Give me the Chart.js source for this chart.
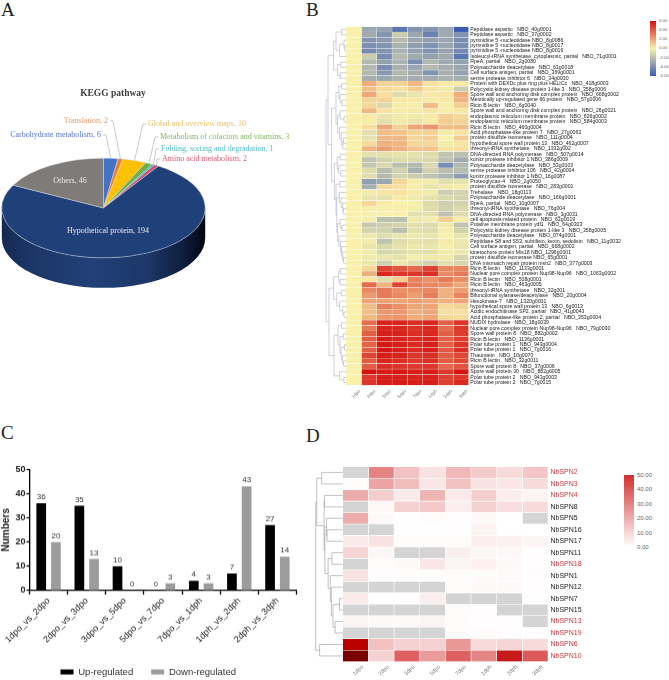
<!DOCTYPE html>
<html>
<head>
<meta charset="utf-8">
<title>Figure</title>
<script src="https://cdn.jsdelivr.net/npm/chart.js@4"></script>
<style>
  body { margin: 0; background: #fff; width: 669px; height: 680px; position: relative; overflow: hidden; }
  canvas { position: absolute; }
  .letter { position: absolute; font: 19px "Liberation Serif", serif; color: #222; line-height: 19px; }
  .bar { position: absolute; }
  .tick { position: absolute; font-family: "Liberation Sans", sans-serif; color: #666; line-height: 1; }
</style>
</head>
<body>
<div class="letter" style="left:1px;top:0px">A</div>
<div class="letter" style="left:306px;top:0px">B</div>
<div class="letter" style="left:1px;top:423px">C</div>
<div class="letter" style="left:306px;top:426px">D</div>

<div style="position:absolute;left:0;top:0;width:300px;height:320px"><canvas id="pieChart"></canvas></div>
<div style="position:absolute;left:320px;top:20px;width:330px;height:390px"><canvas id="heatB"></canvas></div>
<div style="position:absolute;left:0;top:460px;width:300px;height:227.7px"><canvas id="barChart"></canvas></div>
<div style="position:absolute;left:310px;top:460px;width:290px;height:218px"><canvas id="heatD"></canvas></div>

<div class="bar" id="barB" style="left:650px;top:21px;width:6px;height:55px"></div>
<div class="bar" id="barD" style="left:624px;top:475px;width:10px;height:72px"></div>

<script>
// Panel A
const pieLabels = ["Carbohydrate metabolism", "Translation", "Global and overview maps",
    "Metabolism of cofactors and vitamins", "Folding, sorting and degradation",
    "Amino acid metabolism", "Hypothetical protein", "Others"];
const pieValues = [6, 2, 10, 3, 1, 2, 194, 46];
const pieColors = ["#4472c4", "#ed7d31", "#ffc000", "#70ad47", "#2fb4c4", "#d0506e", "#20407a", "#7f7b78"];
const pieTextColors = ["#5577cc", "#ef9a66", "#e6bf6a", "#82b85e", "#4fbcc8", "#dc5a70"];
const pieTextPos = [[101, 135, "right"], [108, 121, "right"], [148, 124, "left"], [160, 137, "left"], [161, 149, "left"], [162, 159, "left"]];

// Panel C
const comparisons = ["1dpo_vs_2dpo", "2dpo_vs_3dpo", "3dpo_vs_5dpo", "5dpo_vs_7dpo", "7dpo_vs_1dph", "1dph_vs_2dph", "2dph_vs_3dph"];
const upRegulated = [36, 35, 10, 0, 4, 7, 27];
const downRegulated = [20, 13, 0, 3, 3, 43, 14];

// Panels B and D
const stages = ["1dpo", "2dpo", "3dpo", "5dpo", "7dpo", "1dph", "2dph", "3dph"];

const genesB = [
    "Peptidase aspartic   NBO_40g0001", "Peptidase aspartic   NBO_37g0002",
    "pyrimidine 5 -nucleotidase NBO_8g0086", "pyrimidine 5 -nucleotidase NBO_8g0017",
    "pyrimidine 5 -nucleotidase NBO_8g0016", "Isoleucyl-tRNA synthetase, cytoplasmic, partial   NBO_71g0001",
    "RpeA, partial   NBO_2g0080", "Polysaccharide deacetylase   NBO_63g0018",
    "Cell surface antigen, partial   NBO_369g0001", "serine protease inhibitor 6   NBO_34g0030",
    "Protein with DEXDc plus ring plus HELICc   NBO_418g0003", "Polycystic kidney disease protein 1-like 3   NBO_358g0006",
    "Spore wall and anchoring disk complex protein   NBO_668g0002", "Meiotically up-regulated gene 66 protein   NBO_57g0006",
    "Ricin B lectin   NBO_6g0040", "Spore wall and anchoring disk complex protein   NBO_26g0021",
    "endoplasmic reticulum membrane protein   NBO_626g0002", "endoplasmic reticulum membrane protein   NBO_584g0003",
    "Ricin B lectin   NBO_460g0004", "Acid phosphatase-like protein 7   NBO_27g0063",
    "protein disulfide isomerase   NBO_111g0004", "hypothetical spore wall protein 13   NBO_462g0007",
    "threonyl-tRNA synthetase   NBO_1332g002", "DNA-directed RNA polymerase   NBO_507g0014",
    "kunitz protease inhibitor 1 NBO_386g0009", "Polysaccharide deacetylase   NBO_53g0003",
    "serine protease inhibitor 106   NBO_42g0004", "kunitz protease inhibitor 1 NBO_16g0087",
    "Proteoglycan-4   NBO_2g0050", "protein disulfide isomerase   NBO_283g0001",
    "Trehalase   NBO_18g0113", "Polysaccharide deacetylase   NBO_166g0001",
    "RpeA, partial   NBO_10g0007", "threonyl-tRNA synthetase   NBO_76g004",
    "DNA-directed RNA polymerase   NBO_3g0031", "cell apoptosis-related protein   NBO_63g0019",
    "Putative membrane protein ydf1   NBO_64g0303", "Polycystic kidney disease protein 1-like 3   NBO_358g0005",
    "Polysaccharide deacetylase   NBO_074g0001", "Peptidase S8 and S53, subtilisin, kexin, sedolisin   NBO_11g0032",
    "Cell surface antigen, partial   NBO_668g0002", "kinetochore protein Mis18 NBO_1296g0001",
    "protein disulfide isomerase NBO_65g0001", "DNA mismatch repair protein msh2   NBO_377g0003",
    "Ricin B lectin   NBO_1133g0001", "Nuclear pore complex protein Nup98-Nup96   NBO_1063g0002",
    "Ricin B lectin   NBO_508g0001", "Ricin B lectin   NBO_463g0005",
    "threonyl-tRNA synthetase   NBO_32g001", "Bifunctional xylanase/deacetylase   NBO_20g0004",
    "Hexokinase-7   NBO_1320g0001", "hypothetical spore wall protein 13   NBO_6g0013",
    "Acidic endochitinase SP2, partial   NBO_41g0043", "Acid phosphatase-like protein 2, partial   NBO_353g0004",
    "NUDIX hydrolase   NBO_18g0039", "Nuclear pore complex protein Nup98-Nup96   NBO_79g0030",
    "Spore wall protein 8   NBO_882g0002", "Ricin B lectin   NBO_1136g0001",
    "Polar tube protein 1   NBO_943g0004", "Polar tube protein 1   NBO_7g0016",
    "Thaumatin   NBO_10g0070", "Ricin B lectin   NBO_32g0011",
    "Spore wall protein 8   NBO_37g0006", "Spore wall protein 30   NBO_882g0005",
    "Polar tube protein 2   NBO_943g0003", "Polar tube protein 2   NBO_7g0015"
];
const valuesB = [
    [0, -3, -3.2, -5, -3.7, -3.7, -3, -6], [0, -2.8, -3.7, -1.5, -3, -4.5, -2.8, -3.8],
    [0, -3.7, -3.5, -2.2, -3, -3.3, -3, -4], [0, -3.9, -3.7, -2.5, -3.3, -3.8, -3, -4],
    [0, -4.2, -3.7, -2.5, -3.2, -3.8, -3.1, -4.2], [0, -1.5, -4, -2.2, -2.8, -3.2, -2.8, -5],
    [0, -2.3, -3.2, -2.5, -4, -2.3, -2.8, -3.2], [0, -2.3, -4, -2.6, -3, -2.2, -2.7, -3],
    [0, -2.3, -3.6, -2.3, -2.7, -3.8, -2.6, -3.2], [0, -2.7, -3, -2.5, -2.7, -2.7, -2.5, -2.7],
    [0, 1.8, 0.8, 0.8, 1.5, 0.4, 0.2, 0.2], [0, 1.3, 0.6, 0.4, 1, 0.3, -0.3, -1.5],
    [0, 2, 0.5, -0.8, -0.5, 0.2, 0.3, 1.8], [0, 0.8, 0.8, 0.2, 0.2, 0.2, 0.2, 1.6],
    [0, 0.7, -1, 0.1, 0.1, 1.4, 0.1, 0.9], [0, 1.5, 0.4, 0.1, 0.2, 0.3, 0.1, 0.3],
    [0, 0.2, -0.5, -0.3, -0.3, 0.2, 0.9, 0.6], [0, 0.1, -0.7, -0.3, -0.5, 0.1, 1, 0.8],
    [0, 0.5, 2, 0.9, 2, 2.4, 1.4, 1.4], [0, -0.7, 1.4, 1.2, 0.8, 0.8, -0.2, 0.4],
    [0, -0.6, 1.5, 1.5, 0.7, 0.9, 0, 1], [0, 0.6, 1.7, 1.6, 0.7, 0.7, -0.2, 0.3],
    [0, 1.6, 2.2, 1.7, 1.2, 1.2, 0.4, 0.5], [0, -0.7, -0.7, -0.6, -0.6, -0.8, -1.8, -2],
    [0, -1.8, -1.2, -0.9, -0.9, -1, -2, -2.8], [0, -1.7, -1, -2, -2.2, -1, -4, -2.3],
    [0, -0.8, -2.1, -1.2, -2.6, -1.3, -2, -2.1], [0, -0.8, -2.2, -1.2, -1.5, -1.8, -2.4, -3.4],
    [0, -3.4, -3, 0.7, 0.1, -0.2, -0.7, -0.6], [0, -2.6, 0.6, 0.4, 0.1, -0.5, -0.3, -0.2],
    [0, -0.2, 0.3, 0.4, 0.2, -0.2, -1.4, -1.2], [0, -0.5, -0.7, 0.2, -0.3, -0.6, -1, -1.2],
    [0, 0.7, 0.1, 0, -0.1, -0.9, -1.4, -1.2], [0, -0.1, -0.1, 0, -0.2, -0.8, -1.3, -1],
    [0, -0.1, 0, 0, -0.7, -0.7, -1.8, -0.9], [0, -0.1, -1.9, -2, -0.3, -0.2, 0.9, 0.1],
    [0, -1.6, -1.4, -1.2, -0.7, -0.9, -0.3, -1.8], [0, -1.2, -1.3, -2, -0.7, -0.9, -0.2, -1.3],
    [0, -0.4, -0.8, -0.5, -0.4, -0.5, 0, -0.5], [0, -0.2, -1.8, -0.8, -0.6, -0.7, 0.2, -0.4],
    [0, -0.5, -1, -0.6, -0.4, -0.5, -0.1, -0.5], [0, -0.3, -1.1, -0.9, -0.6, -0.7, -0.3, -0.4],
    [0, -0.3, -0.4, -0.6, -0.1, -0.3, -0.3, -1.1], [0, -0.4, -1.3, -0.4, -0.8, -1.3, -0.7, -1.1],
    [0, 0.7, 4.6, 4.1, 3.6, 4.7, 2.8, 2.9], [0, 1.8, 5.4, 5, 5, 5.2, 2.7, 3.2],
    [0, 0.3, -0.8, 1, 3, 2.6, 3.2, 2.7], [0, 3.6, 1.6, 4.6, 3.1, 2.8, 2.6, 2],
    [0, 2.8, 3.2, 2.6, 2.6, 2.8, 1.7, 2.2], [0, 2.3, 3.2, 2.8, 2.2, 3.1, 1.7, 2.9],
    [0, 2, 2.1, 2, 2.1, 2, 1.7, 2], [0, 1.4, 3, 2.6, 2, 2, 0.6, 0.8],
    [0, 1.3, 2.4, 2.4, 1.7, 2, 0.5, 0.5], [0, 1.5, 2.3, 2.4, 1.8, 2, 0.7, 0.6],
    [0, 3.5, 5.5, 5.5, 5.2, 5.4, 3.9, 5], [0, 3.2, 5.5, 5.4, 5.1, 5.4, 3.6, 5],
    [0, 3.9, 5.6, 5.5, 5.2, 5.4, 3.9, 4.8], [0, 3.9, 5.7, 5.5, 5.3, 5.5, 3.9, 4.8],
    [0, 3.8, 5.8, 5.6, 5.3, 5.6, 3.9, 5], [0, 3.9, 5.9, 5.6, 5.3, 5.6, 4.1, 5.2],
    [0, 4.6, 5.6, 5.5, 5, 5.2, 4, 4.5], [0, 4, 5.4, 5.2, 4.9, 5.2, 4, 4.5],
    [0, 4, 5.2, 5, 4.9, 5, 3.7, 4.2], [0, 6, 5.7, 5.9, 5.6, 5.7, 4.9, 5.9],
    [0, 4.9, 5.6, 5.6, 5.5, 5.5, 4.7, 5], [0, 5, 5.7, 5.7, 5.6, 5.6, 4.7, 5.3]
];
const ticksB = ["6.00", "4.00", "2.00", "0.00", "-2.00", "-4.00", "-6.00"];

const genesD = ["NbSPN2", "NbSPN3", "NbSPN4", "NbSPN8", "NbSPN5", "NbSPN16", "NbSPN17", "NbSPN11", "NbSPN18",
    "NbSPN1", "NbSPN12", "NbSPN7", "NbSPN15", "NbSPN13", "NbSPN19", "NbSPN6", "NbSPN10"];
const redGenesD = ["NbSPN2", "NbSPN3", "NbSPN4", "NbSPN18", "NbSPN13", "NbSPN19", "NbSPN6", "NbSPN10"];
const valuesD = [
    [null, 30, 15, 7, 17, 13, 9, 14],
    [1, 22, 16, 6, 15, 7, 6, 9],
    [20, 12, 5, 18, 5, 12, 4, 3],
    [null, 2, 11, 13, 4, 11, 8, 9],
    [20, 1.5, 0.2, 1, 0.5, 1.5, 0, null],
    [null, null, 0.3, 0.3, 0.5, 3, 0, 0],
    [5, 7, 1, 1, 1, 4, 3.5, 3],
    [10, 2, null, null, 4, 2, 2, 0.5],
    [null, 1, 1.5, 6, 3, 3.5, 1.5, 0.5],
    [7, 1, 1, 1, 1, 1, 1.5, 0.7],
    [null, null, null, null, 1, 1.5, 1.5, 0.5],
    [5, 0, 0.5, 4, null, null, null, 0.2],
    [null, null, null, null, 1, 0.5, null, null],
    [3, 1.5, 1.5, 3, 1, 0.5, 0.5, null],
    [null, null, null, null, 1, 1, 0.7, 0.4],
    [68, 15, 11, 11, 25, 9, 10, 9],
    [95, 11, 38, 24, 38, 29, 58, 40]
];
const ticksD = ["50.00", "40.00", "30.00", "20.00", "10.00", "0.00"];

// cluster trees: [height, left, right], a plain number is a row index
const treeB = [1,
    [0.9,
        [0.62, [0.5, [0.22, 0, 1], [0.32, [0.1, 2, [0.06, 3, 4]], 5]], [0.42, [0.26, 6, 7], [0.3, 8, 9]]],
        [0.72,
            [0.5, [0.36, [0.22, 10, 11], [0.3, 12, [0.2, 13, 14]]], [0.42, [0.3, 15, [0.1, 16, 17]], [0.32, 18, [0.24, 19, [0.16, [0.12, 20, 21], 22]]]]],
            [0.58, [0.44, [0.3, 23, 24], [0.36, 25, [0.26, 26, 27]]],
                [0.5, [0.32, 28, 29], [0.46, [0.34, 30, [0.24, 31, [0.16, 32, [0.14, 33, 34]]]], [0.42, [0.3, 35, [0.2, 36, 37]], [0.36, 38, [0.28, 39, [0.22, 40, [0.16, 41, [0.12, 42, 43]]]]]]]]]
        ]
    ],
    [0.85,
        [0.62, [0.36, [0.28, 44, 45], [0.3, 46, 47]], [0.46, [0.24, 48, 49], [0.32, 50, [0.16, 51, [0.1, 52, 53]]]]],
        [0.6, [0.4, [0.22, 54, 55], [0.3, [0.14, 56, 57], [0.24, [0.08, 58, 59], [0.18, 60, [0.12, 61, 62]]]]], [0.32, 63, [0.1, 64, 65]]]
    ]
];
const treeD = [1,
    [0.96,
        [0.78, 0, 1],
        [0.69, [0.67, 2, 3],
            [0.66, [0.6, 4, [0.58, 5, 6]],
                [0.54, [0.4, 7, 8], [0.46, 9, [0.42, 10, [0.36, [0.12, 11, 12], [0.28, 13, 14]]]]]]]
    ],
    [0.855, 15, 16]
];

const sans = '"Liberation Sans", Arial, sans-serif';
const serif = '"Liberation Serif", "Times New Roman", serif';

function hexToRgb(hex) {
    return [1, 3, 5].map(i => parseInt(hex.substr(i, 2), 16));
}

function rampColor(stops, v) {
    // stops is a list of [value, colour], sorted by value
    if (v <= stops[0][0]) return stops[0][1];
    for (let i = 1; i < stops.length; i++) {
        if (v <= stops[i][0]) {
            const t = (v - stops[i - 1][0]) / (stops[i][0] - stops[i - 1][0]);
            const a = hexToRgb(stops[i - 1][1]);
            const b = hexToRgb(stops[i][1]);
            return `rgb(${a.map((c, k) => Math.round(c + (b[k] - c) * t)).join(",")})`;
        }
    }
    return stops[stops.length - 1][1];
}

const stopsB = [[-6, "#3c5cb4"], [0, "#f9f1ab"], [6, "#d5100f"]];
const stopsD = [[0, "#ffffff"], [50, "#d32f2f"], [68, "#bb0000"], [95, "#7a0000"]];

// the tree is hung off the y scale, so the leaves follow the rows
const dendrogram = (tree, depth, color) => ({
    id: "dendrogram",
    afterDraw(chart) {
        const { ctx, chartArea, scales } = chart;
        const px = h => chartArea.left - h * depth;
        ctx.save();
        ctx.strokeStyle = color;
        ctx.lineWidth = 0.6;
        ctx.beginPath();
        function walk(node) {
            if (typeof node === "number") return { y: scales.y.getPixelForValue(node), h: 0 };
            const a = walk(node[1]);
            const b = walk(node[2]);
            const x = px(node[0]);
            ctx.moveTo(px(a.h), a.y);
            ctx.lineTo(x, a.y);
            ctx.lineTo(x, b.y);
            ctx.lineTo(px(b.h), b.y);
            return { y: (a.y + b.y) / 2, h: node[0] };
        }
        walk(tree);
        ctx.stroke();
        ctx.restore();
    }
});

function heatmap(id, rows, values, stops, missing, o) {
    const datasets = stages.map((stage, c) => ({
        label: stage,
        data: rows.map((r, i) => ({ x: [c, c + 1], y: r, v: values[i][c] })),
        backgroundColor: ctx => {
            const v = ctx.raw.v;
            return v === null ? missing : rampColor(stops, v);
        },
        borderColor: "#ffffff",
        borderWidth: o.gap,
        borderSkipped: false,
        grouped: false,
        barPercentage: 1,
        categoryPercentage: 1
    }));
    return new Chart(document.getElementById(id), {
        type: "bar",
        data: { labels: rows, datasets },
        plugins: [dendrogram(o.tree, o.depth, o.treeColor)],
        options: {
            indexAxis: "y",
            animation: false,
            responsive: true,
            maintainAspectRatio: false,
            layout: { padding: o.padding },
            plugins: { legend: { display: false }, tooltip: { enabled: false } },
            scales: {
                x: {
                    type: "linear",
                    min: 0,
                    max: stages.length,
                    grid: { display: false, drawTicks: false },
                    border: { display: false },
                    afterBuildTicks: axis => { axis.ticks = stages.map((s, i) => ({ value: i + 0.5 })); },
                    afterFit: axis => { axis.height = o.xHeight; },
                    ticks: {
                        callback: v => stages[Math.floor(v)],
                        autoSkip: false,
                        minRotation: 45,
                        maxRotation: 45,
                        padding: o.xPad,
                        labelOffset: o.xOffset,
                        color: "#777",
                        font: { family: sans, size: o.xFont }
                    }
                },
                y: {
                    type: "category",
                    position: "right",
                    grid: { display: false, drawTicks: false },
                    border: { display: false },
                    afterFit: axis => { axis.width = o.yWidth; },
                    ticks: {
                        autoSkip: false,
                        padding: o.yPad,
                        color: o.rowColor,
                        font: { family: sans, size: o.yFont }
                    }
                }
            }
        }
    });
}

// flatten the round pie and put a rim under the front half
const FLAT = 0.49;
const RIM = 30;
const flatPie = {
    id: "flatPie",
    beforeDatasetsDraw(chart) {
        const { ctx } = chart;
        const arc = chart.getDatasetMeta(0).data[0];
        const cx = arc.x, cy = arc.y, r = arc.outerRadius;
        ctx.save();
        const g = ctx.createLinearGradient(cx - r, 0, cx + r, 0);
        g.addColorStop(0, "#14294f");
        g.addColorStop(0.12, "#1b3564");
        g.addColorStop(0.45, "#224179");
        g.addColorStop(0.72, "#1c3768");
        g.addColorStop(0.9, "#0e1d3c");
        g.addColorStop(1, "#03060f");
        ctx.fillStyle = g;
        ctx.beginPath();
        ctx.ellipse(cx, cy, r, r * FLAT, 0, 0, Math.PI);
        ctx.lineTo(cx - r, cy + RIM);
        ctx.ellipse(cx, cy + RIM, r, r * FLAT, 0, Math.PI, 0, true);
        ctx.closePath();
        ctx.fill();
        ctx.restore();
        ctx.save();
        ctx.translate(cx, cy);
        ctx.scale(1, FLAT);
        ctx.translate(-cx, -cy);
    },
    afterDatasetsDraw(chart) {
        chart.ctx.restore();
    },
    afterDraw(chart) {
        const { ctx } = chart;
        const arcs = chart.getDatasetMeta(0).data;
        ctx.save();
        ctx.textBaseline = "middle";
        ctx.font = `bold 9.5px ${serif}`;
        ctx.fillStyle = "#404040";
        ctx.textAlign = "center";
        ctx.fillText("KEGG pathway", 113, 94);
        ctx.font = `8px ${serif}`;
        pieTextPos.forEach((p, i) => {
            // leader from the text to the edge of its slice
            const a = arcs[i];
            const mid = (a.startAngle + a.endAngle) / 2;
            const ex = a.x + Math.cos(mid) * a.outerRadius;
            const ey = a.y + Math.sin(mid) * a.outerRadius * FLAT;
            const dir = p[2] === "right" ? 1 : -1;
            ctx.strokeStyle = "#a8a8a8";
            ctx.lineWidth = 0.6;
            ctx.beginPath();
            ctx.moveTo(p[0] + dir * 2, p[1]);
            ctx.lineTo(p[0] + dir * 5, p[1]);
            ctx.lineTo(ex, ey);
            ctx.stroke();
            ctx.fillStyle = pieTextColors[i];
            ctx.textAlign = p[2];
            ctx.fillText(`${pieLabels[i]}, ${pieValues[i]}`, p[0], p[1]);
        });
        ctx.fillStyle = "#e8e8e8";
        ctx.textAlign = "center";
        ctx.fillText(`${pieLabels[7]}, ${pieValues[7]}`, 70, 181);
        ctx.fillText(`${pieLabels[6]}, ${pieValues[6]}`, 108, 231);
        ctx.restore();
    }
};

const barValueLabels = {
    id: "barValueLabels",
    afterDatasetsDraw(chart) {
        const { ctx } = chart;
        ctx.save();
        ctx.font = `8px ${sans}`;
        ctx.fillStyle = "#333";
        ctx.textAlign = "center";
        ctx.textBaseline = "bottom";
        chart.data.datasets.forEach((ds, i) => {
            chart.getDatasetMeta(i).data.forEach((bar, j) => {
                ctx.fillText(ds.data[j], bar.x, bar.y - 2);
            });
        });
        ctx.restore();
    }
};

function renderPie() {
    new Chart(document.getElementById("pieChart"), {
        type: "pie",
        data: {
            labels: pieLabels,
            datasets: [{ data: pieValues, backgroundColor: pieColors, borderColor: "#d9dde6", borderWidth: 0.6 }]
        },
        plugins: [flatPie],
        options: {
            animation: false,
            responsive: true,
            maintainAspectRatio: false,
            layout: { padding: { left: 1.5, right: 94.5, top: 106, bottom: 10 } },
            plugins: { legend: { display: false }, tooltip: { enabled: false } }
        }
    });
}

function renderBars() {
    new Chart(document.getElementById("barChart"), {
        type: "bar",
        data: {
            labels: comparisons,
            datasets: [
                { label: "Up-regulated", data: upRegulated, backgroundColor: "#000000" },
                { label: "Down-regulated", data: downRegulated, backgroundColor: "#9c9c9c" }
            ]
        },
        plugins: [barValueLabels],
        options: {
            animation: false,
            responsive: true,
            maintainAspectRatio: false,
            categoryPercentage: 0.77,
            barPercentage: 0.66,
            layout: { padding: { left: 0, right: 3.5, top: 9.3, bottom: 2 } },
            plugins: {
                tooltip: { enabled: false },
                legend: {
                    position: "bottom",
                    labels: { boxWidth: 13, boxHeight: 5, padding: 18, color: "#333", font: { family: sans, size: 9.5 } }
                }
            },
            scales: {
                x: {
                    grid: { drawOnChartArea: false, tickColor: "#000", tickWidth: 1.3, tickLength: 4 },
                    border: { color: "#000", width: 1.3 },
                    afterFit: axis => { axis.height = 58.3; },
                    ticks: { minRotation: 45, maxRotation: 45, autoSkip: false, padding: 1, color: "#222", font: { family: sans, size: 9 } }
                },
                y: {
                    min: 0,
                    max: 50,
                    grid: { drawOnChartArea: false, tickColor: "#000", tickWidth: 1.3, tickLength: 3 },
                    border: { color: "#000", width: 1.3 },
                    afterFit: axis => { axis.width = 29.5; },
                    title: { display: true, text: "Numbers", color: "#222", padding: 0, font: { family: sans, size: 10, weight: "bold" } },
                    ticks: { stepSize: 10, padding: 1, color: "#222", font: { family: sans, size: 9, weight: "bold" } }
                }
            }
        }
    });
}

function renderColorBar(id, stops, labels, font) {
    const bar = document.getElementById(id);
    const top = stops[stops.length - 1][0];
    const bottom = stops[0][0];
    const css = stops.slice().reverse().map(s => `${s[1]} ${(top - s[0]) / (top - bottom) * 100}%`).join(",");
    bar.style.background = `linear-gradient(to bottom, ${css})`;
    const box = bar.getBoundingClientRect();
    labels.forEach((t, i) => {
        const el = document.createElement("div");
        el.className = "tick";
        el.textContent = t;
        el.style.fontSize = font + "px";
        el.style.left = (box.right + 3) + "px";
        el.style.top = (box.top + box.height * i / (labels.length - 1) - font / 2) + "px";
        document.body.appendChild(el);
    });
}

document.addEventListener("DOMContentLoaded", function() {
    renderPie();
    renderBars();
    heatmap("heatB", genesB, valuesB, stopsB, "#ffffff", {
        gap: 0.4,
        tree: treeB,
        depth: 20,
        treeColor: "#aab0c0",
        padding: { left: 26, top: 6.6, right: 0, bottom: 0 },
        xHeight: 24.6,
        yWidth: 181.3,
        xFont: 4.6,
        xPad: 3,
        yFont: 5.2,
        xOffset: 6,
        yPad: 1.5,
        rowColor: "#222"
    });
    heatmap("heatD", genesD, valuesD, stopsD, "#d4d4d4", {
        gap: 0.6,
        tree: treeD,
        depth: 27,
        treeColor: "#999999",
        padding: { left: 32.7, top: 5.7, right: 0, bottom: 0 },
        xHeight: 16.3,
        yWidth: 52,
        xFont: 5.5,
        xPad: 2,
        yFont: 7,
        xOffset: 7,
        yPad: 2.5,
        rowColor: ctx => redGenesD.includes(genesD[ctx.index]) ? "#c8393c" : "#222"
    });
    renderColorBar("barB", stopsB, ticksB, 4.3);
    renderColorBar("barD", [[0, "#ffffff"], [50, "#d32f2f"]], ticksD, 6);
});
</script>
</body>
</html>
